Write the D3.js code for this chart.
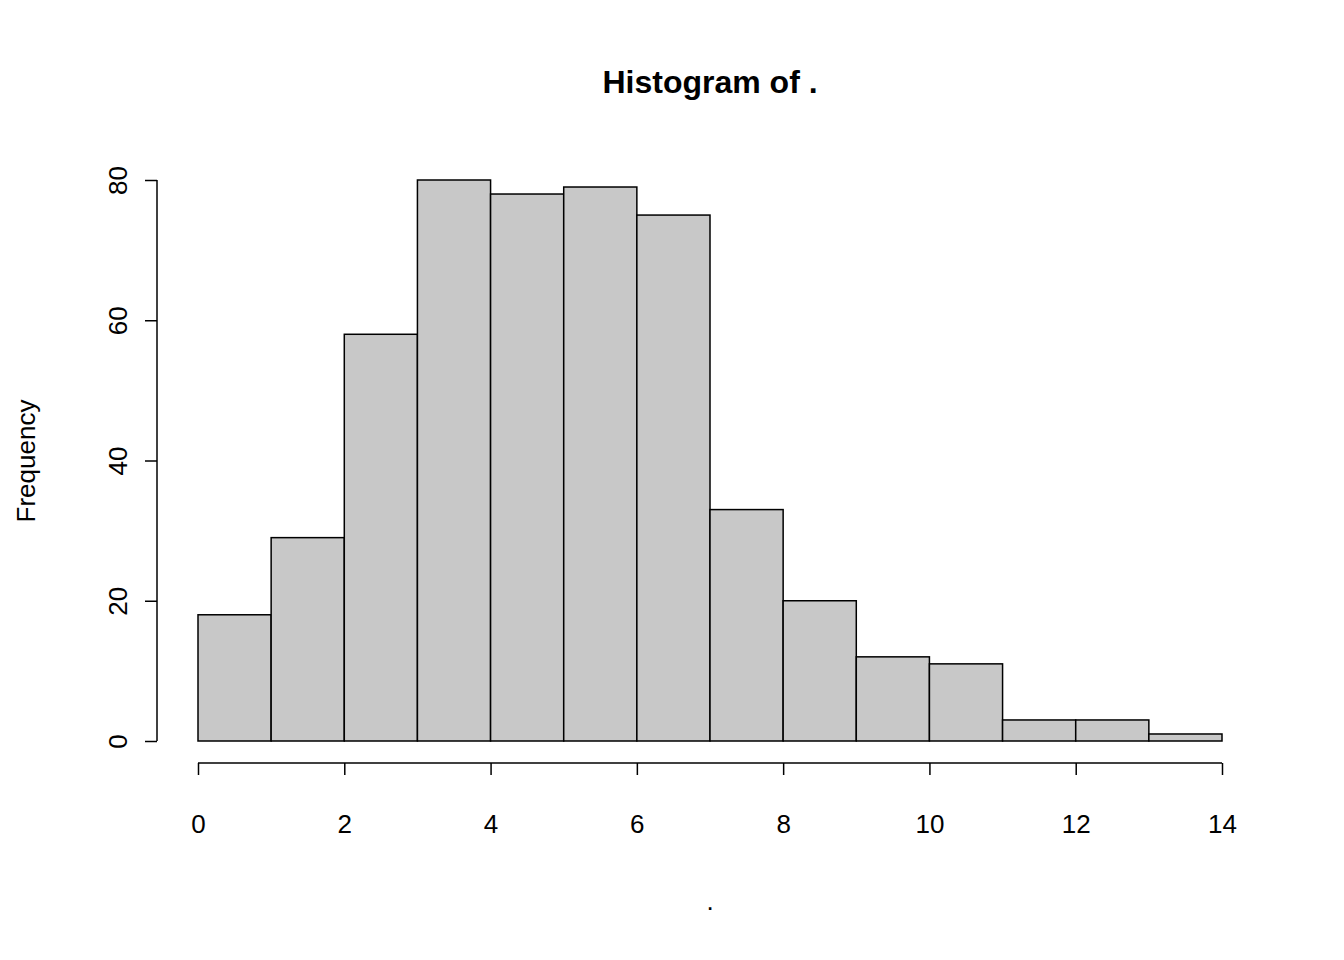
<!DOCTYPE html>
<html><head><meta charset="utf-8">
<script src="https://cdn.jsdelivr.net/npm/d3@7"></script>
<style>body{margin:0;background:#fff}text{font-family:"Liberation Sans",Arial,sans-serif}</style>
</head><body><svg id="c" width="1344" height="960"></svg>
<script>
const binStarts=[0,1,2,3,4,5,6,7,8,9,10,11,12,13];
const binWidth=1;
const counts=[18,29,58,80,78,79,75,33,20,12,11,3,3,1];
const xTicks=[0,2,4,6,8,10,12,14];
const yTicks=[0,20,40,60,80];
const svg=d3.select("#c");
const x=d3.scaleLinear().domain([0,14]).range([198,1222]);
const y=d3.scaleLinear().domain([0,80]).range([741,180]);
svg.selectAll("rect.bar").data(counts).join("rect")
 .attr("x",(d,i)=>x(binStarts[i])).attr("width",(d,i)=>x(binStarts[i]+binWidth)-x(binStarts[i]))
 .attr("y",d=>y(d)).attr("height",d=>y(0)-y(d))
 .attr("fill","#c8c8c8").attr("stroke","#000").attr("stroke-width",1.5);
const xa=svg.append("g").attr("transform","translate(0,763)")
 .call(d3.axisBottom(x).tickValues(xTicks).tickSize(12).tickPadding(40).tickFormat(d3.format("d")));
const ya=svg.append("g").attr("transform","translate(157,0)")
 .call(d3.axisLeft(y).tickValues(yTicks).tickSize(12).tickFormat(d3.format("d")));
[xa,ya].forEach(a=>{a.select(".domain").attr("stroke-width",1.5);a.selectAll("line").attr("stroke-width",1.5);a.selectAll("text").attr("font-size",26).attr("fill","#000");});
xa.select(".domain").attr("d",`M${x(0)},0H${x(14)}`);
ya.select(".domain").attr("d",`M0,${y(0)}V${y(80)}`);
ya.selectAll(".tick text").attr("transform","rotate(-90)").attr("x",0).attr("y",-30).attr("dy","0").attr("text-anchor","middle");
svg.append("text").attr("x",710).attr("y",93).attr("text-anchor","middle").attr("font-size",32).attr("font-weight","bold").text("Histogram of .");
svg.append("text").attr("x",710).attr("y",910).attr("text-anchor","middle").attr("font-size",26).text(".");
svg.append("text").attr("transform","translate(35,461) rotate(-90)").attr("text-anchor","middle").attr("font-size",26).text("Frequency");
</script></body></html>
